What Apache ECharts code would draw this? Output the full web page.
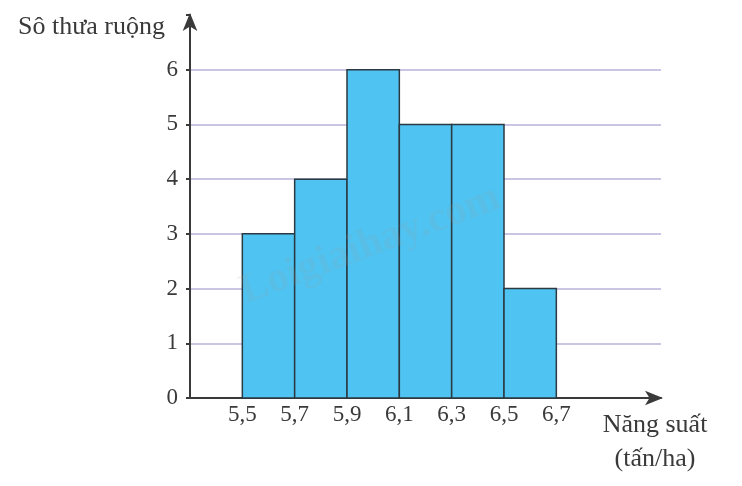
<!DOCTYPE html>
<html><head><meta charset="utf-8">
<script src="https://cdn.jsdelivr.net/npm/echarts@6/dist/echarts.min.js"></script>
<style>html,body{margin:0;padding:0;background:#fff}#c{width:742px;height:486px}</style>
</head><body><div id="c"></div>
<script>
const binStarts = [5.5, 5.7, 5.9, 6.1, 6.3, 6.5];
const binEnds = [5.7, 5.9, 6.1, 6.3, 6.5, 6.7];
const counts = [3, 4, 6, 5, 5, 2];
const xTickValues = [5.5, 5.7, 5.9, 6.1, 6.3, 6.5, 6.7];
const yTickValues = [0, 1, 2, 3, 4, 5, 6];
const yAxisName = 'Sô thưa ruộng';
const xAxisName = 'Năng suất\n(tấn/ha)';

const chart = echarts.init(document.getElementById('c'));
const font = '"Liberation Serif", "DejaVu Serif", serif';
const data = binStarts.map((s, i) => [s, binEnds[i], counts[i]]);
chart.setOption({
  animation: false,
  grid: { left: 190, right: 81, top: 15, bottom: 88 },
  xAxis: {
    type: 'value', min: 5.3, max: 7.1,
    axisLine: { show: true, lineStyle: { color: '#3a3a3a', width: 2 }, symbol: ['none', 'arrow'], symbolSize: [11, 18], symbolOffset: [0, 2] },
    axisTick: { show: false },
    splitLine: { show: false },
    axisLabel: {
      customValues: xTickValues,
      formatter: v => v.toFixed(1).replace('.', ','),
      fontFamily: font, fontSize: 23, color: '#3a3a3a', margin: 5
    }
  },
  yAxis: {
    type: 'value', min: 0, max: 7, interval: 1,
    axisLine: { show: true, lineStyle: { color: '#3a3a3a', width: 2 }, symbol: ['none', 'arrow'], symbolSize: [11, 18], symbolOffset: [0, 2] },
    axisTick: { show: true, length: 4, lineStyle: { color: '#3a3a3a', width: 2 } },
    splitLine: { show: true, showMinLine: false, showMaxLine: false, lineStyle: { color: '#c9c5e2', width: 2 } },
    axisLabel: {
      customValues: yTickValues,
      fontFamily: font, fontSize: 23, color: '#3a3a3a', margin: 12
    }
  },
  graphic: [
    { type: 'text', x: 18, y: 27, style: { text: yAxisName, font: '26px ' + font, fill: '#3a3a3a', verticalAlign: 'middle' } },
    { type: 'text', x: 655, y: 408, style: { text: xAxisName, font: '26px ' + font, fill: '#3a3a3a', align: 'center', lineHeight: 34 } },
    { type: 'text', x: 370, y: 245, rotation: 0.36, style: { text: 'Loigiaihay.com', font: 'bold 42px ' + font, fill: 'rgba(160,160,160,0.13)', align: 'center', verticalAlign: 'middle' }, z: 100 }
  ],
  series: [{
    type: 'custom',
    data: data,
    encode: { x: [0, 1], y: 2 },
    renderItem: (params, api) => {
      const p0 = api.coord([api.value(0), api.value(2)]);
      const p1 = api.coord([api.value(1), 0]);
      return {
        type: 'rect',
        shape: { x: p0[0], y: p0[1], width: p1[0] - p0[0], height: p1[1] - p0[1] },
        style: { fill: '#4fc3f1', stroke: '#2b3a42', lineWidth: 1.5 }
      };
    }
  }]
});
</script></body></html>
